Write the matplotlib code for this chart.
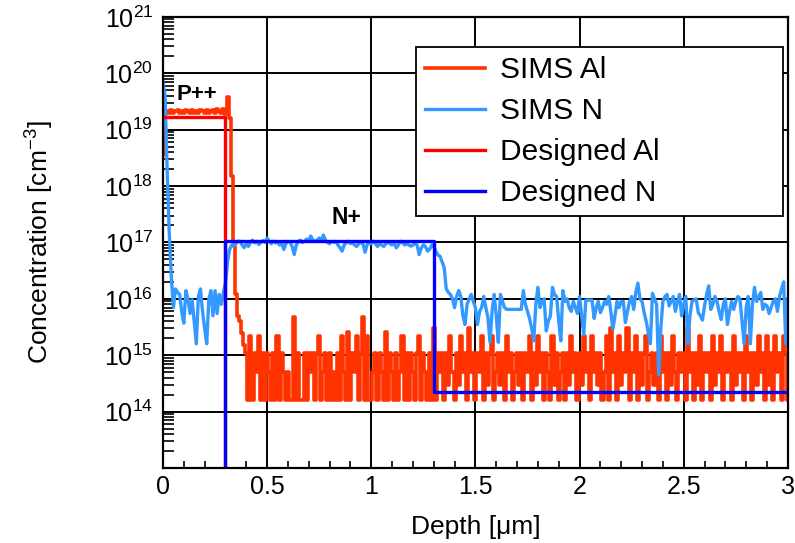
import matplotlib.pyplot as plt
import numpy as np
from matplotlib.ticker import FixedLocator, FixedFormatter, LogLocator, MultipleLocator

plt.rcParams["font.family"] = ["Liberation Sans", "DejaVu Sans"]
plt.rcParams["mathtext.fontset"] = "custom"
plt.rcParams["mathtext.rm"] = "Liberation Sans"
plt.rcParams["mathtext.it"] = "Liberation Sans:italic"
plt.rcParams["mathtext.bf"] = "Liberation Sans:bold"

# SIMS profiles, sampled every 0.01 um from 0 to 3 um
sims_al = [
    3.5e18, 2.0e19, 2.1e19, 2.0e19, 2.2e19, 2.0e19, 2.1e19, 2.2e19, 2.0e19, 2.1e19,  # 0.00
    2.0e19, 2.2e19, 2.1e19, 2.0e19, 2.2e19, 2.0e19, 2.1e19, 2.0e19, 2.2e19, 2.1e19,  # 0.10
    2.0e19, 2.2e19, 2.0e19, 2.1e19, 2.2e19, 2.0e19, 2.3e19, 2.1e19, 2.0e19, 2.3e19,  # 0.20
    1.9e19, 3.8e19, 1.6e19, 1.5e18, 1.0e17, 1.2e16, 5e15, 4e15, 2.5e15, 1.5e15,  # 0.30
    1.1e15, 1.6e14, 2.2e15, 1.6e14, 1.1e15, 5e14, 2.2e15, 1.6e14, 1.1e15, 1.6e14,  # 0.40
    1.1e15, 5e14, 1.6e14, 1.1e15, 1.6e14, 2.2e15, 1.6e14, 1.1e15, 5e14, 1.6e14,  # 0.50
    5e14, 1.6e14, 1.6e14, 4.8e15, 1.6e14, 1.1e15, 1.6e14, 1.6e14, 1.1e15, 1.6e14,  # 0.60
    1.1e15, 5e14, 1.1e15, 1.6e14, 1.1e15, 2.2e15, 1.6e14, 5e14, 1.1e15, 1.6e14,  # 0.70
    1.1e15, 1.6e14, 5e14, 1.6e14, 1.1e15, 1.6e14, 2.2e15, 5e14, 1.6e14, 2.6e15,  # 0.80
    1.6e14, 1.1e15, 5e14, 2.2e15, 1.6e14, 1.1e15, 4.8e15, 1.6e14, 2.2e15, 1.6e14,  # 0.90
    1.6e14, 5e14, 1.1e15, 1.6e14, 1.1e15, 5e14, 1.6e14, 2.6e15, 1.6e14, 1.1e15,  # 1.00
    5e14, 1.6e14, 1.1e15, 1.6e14, 5e14, 2.2e15, 1.6e14, 1.1e15, 1.6e14, 1.1e15,  # 1.10
    5e14, 1.6e14, 1.1e15, 2.2e15, 1.6e14, 1.1e15, 5e14, 1.6e14, 1.1e15, 1.6e14,  # 1.20
    3e15, 1.6e14, 1.1e15, 5e14, 1.1e15, 1.6e14, 1.1e15, 3e14, 2.2e15, 5e14,  # 1.30
    1.6e14, 1.1e15, 3e14, 2.2e15, 5e14, 1.1e15, 1.6e14, 3e15, 5e14, 1.1e15,  # 1.40
    1.6e14, 1.1e15, 5e14, 2.2e15, 1.6e14, 1.1e15, 3e14, 1.1e15, 2.2e15, 1.6e14,  # 1.50
    5e14, 1.1e15, 3e14, 1.1e15, 1.6e14, 2.2e15, 5e14, 1.1e15, 1.6e14, 5e14,  # 1.60
    1.1e15, 3e14, 1.1e15, 1.6e14, 1.1e15, 5e14, 2.2e15, 1.6e14, 1.1e15, 3e14,  # 1.70
    2.2e15, 5e14, 1.1e15, 1.6e14, 1.1e15, 5e14, 1.6e14, 2.2e15, 3e14, 1.1e15,  # 1.80
    1.6e14, 5e14, 1.1e15, 1.6e14, 1.1e15, 3e14, 2.2e15, 5e14, 1.1e15, 1.6e14,  # 1.90
    1.1e15, 3e14, 2.2e15, 5e14, 1.1e15, 1.6e14, 2.2e15, 5e14, 1.1e15, 3e14,  # 2.00
    1.1e15, 1.6e14, 5e14, 2.2e15, 1.6e14, 3e15, 5e14, 1.1e15, 1.6e14, 2.2e15,  # 2.10
    3e14, 1.1e15, 5e14, 3e15, 1.6e14, 1.1e15, 5e14, 2.2e15, 1.6e14, 1.1e15,  # 2.20
    3e14, 1.1e15, 2.2e15, 1.6e14, 5e14, 1.1e15, 3e14, 1.1e15, 1.6e14, 2.2e15,  # 2.30
    5e14, 1.1e15, 1.6e14, 1.1e15, 3e14, 2.2e15, 5e14, 1.6e14, 1.1e15, 5e14,  # 2.40
    1.1e15, 1.6e14, 3e15, 5e14, 1.1e15, 1.6e14, 1.1e15, 3e14, 2.2e15, 1.6e14,  # 2.50
    1.1e15, 5e14, 1.1e15, 1.6e14, 2.2e15, 3e14, 1.1e15, 5e14, 2.2e15, 1.6e14,  # 2.60
    1.1e15, 5e14, 1.1e15, 1.6e14, 2.2e15, 3e14, 1.1e15, 5e14, 1.1e15, 1.6e14,  # 2.70
    2.2e15, 5e14, 1.1e15, 1.6e14, 1.1e15, 3e14, 2.2e15, 5e14, 1.1e15, 1.6e14,  # 2.80
    2.2e15, 3e14, 1.1e15, 1.6e14, 2.2e15, 5e14, 1.1e15, 1.6e14, 2.2e15, 1.1e15,  # 2.90
    1.6e14,  # 3.00
]

sims_n = [
    7e19, 4e19, 2e18, 1.5e17, 2.5e16, 7e15, 1.5e16, 1.3e16, 1.2e16, 6e15,  # 0.00
    3.7e15, 1.4e16, 1e16, 5.5e15, 9.6e15, 4e15, 1.6e15, 1.1e16, 1.5e16, 6e15,  # 0.10
    3e15, 1.6e15, 9.6e15, 1.4e16, 5e15, 1.4e16, 5.5e15, 1.2e16, 8e15, 1.3e16,  # 0.20
    1.9e16, 4.5e16, 7.5e16, 9e16, 8.6e16, 9.5e16, 1.05e17, 1.05e17, 9e16, 8.1e16,  # 0.30
    9.5e16, 8.5e16, 1.0e17, 1.1e17, 9.8e16, 1.05e17, 9.2e16, 1.0e17, 1.08e17, 1.0e17,  # 0.40
    1.2e17, 1.05e17, 9.5e16, 1.05e17, 9.8e16, 1.0e17, 9e16, 1.0e17, 7.5e16, 9.5e16,  # 0.50
    1.05e17, 1.0e17, 8.5e16, 6.1e16, 9e16, 1.05e17, 1.1e17, 1.0e17, 1.05e17, 1.15e17,  # 0.60
    1.1e17, 1.3e17, 1.1e17, 1.05e17, 1.1e17, 1.2e17, 1.05e17, 1.35e17, 1.1e17, 1.0e17,  # 0.70
    9.5e16, 1.05e17, 1.0e17, 1.05e17, 9e16, 8e16, 7e16, 9e16, 1.0e17, 1.05e17,  # 0.80
    9.5e16, 1.0e17, 9e16, 8.5e16, 9.5e16, 1.0e17, 9.5e16, 6.7e16, 9e16, 1.0e17,  # 0.90
    9.5e16, 1.05e17, 9.5e16, 8.5e16, 9.5e16, 9e16, 8.5e16, 9.5e16, 1.0e17, 9.5e16,  # 1.00
    9e16, 1.0e17, 8e16, 9e16, 1.05e17, 1.0e17, 9e16, 9.5e16, 9e16, 8.6e16,  # 1.10
    9e16, 9.5e16, 9e16, 6.1e16, 8e16, 9e16, 8.5e16, 7e16, 7.5e16, 9e16,  # 1.20
    8.5e16, 7e16, 6e16, 5.7e16, 4.5e16, 3.6e16, 1.5e16, 1.3e16, 1.2e16, 1.0e16,  # 1.30
    7e15, 1.1e16, 1.4e16, 1.1e16, 5e15, 3.5e15, 8e15, 1.0e16, 1.2e16, 9e15,  # 1.40
    7e15, 3.5e15, 6e15, 7e15, 1.1e16, 7e15, 4.7e15, 1.7e15, 6e15, 1.2e16,  # 1.50
    5e15, 1.7e15, 1.2e16, 9e15, 7e15, 6.5e15, 6.5e15, 6.5e15, 6.5e15, 6.5e15,  # 1.60
    6.5e15, 6.5e15, 6.5e15, 1.4e16, 8e15, 6e15, 4.5e15, 3e15, 1.8e15, 8e15,  # 1.70
    1.6e16, 7e15, 9e15, 1.0e16, 2.7e15, 4e15, 5e15, 1.6e16, 1.2e16, 1.1e16,  # 1.80
    4e15, 1.8e15, 1.4e16, 9e15, 1.0e16, 7e15, 6e15, 9e15, 7e15, 5.5e15,  # 1.90
    1.1e16, 5e15, 2.3e15, 9.5e15, 9.5e15, 9.5e15, 9.5e15, 4.5e15, 7e15, 9e15,  # 2.00
    5.7e15, 7e15, 9e15, 8e15, 1.1e16, 6e15, 2.9e15, 5e15, 9e15, 7e15,  # 2.10
    9e15, 9e15, 3.8e15, 6e15, 9e15, 1.1e16, 6.5e15, 1.3e16, 1.9e16, 1.0e16,  # 2.20
    9e15, 5.7e15, 4e15, 2.5e15, 1.6e15, 1.25e16, 1.0e16, 8e15, 4.5e14, 3e15,  # 2.30
    9e15, 1.1e16, 1.2e16, 7.5e15, 9e15, 1.1e16, 6e15, 9e15, 1.2e16, 5e15,  # 2.40
    8e15, 1.1e16, 1.6e15, 5e15, 9e15, 9.5e15, 1.0e16, 5.7e15, 5e15, 4.2e15,  # 2.50
    7.5e15, 1.2e16, 1.7e16, 6.5e15, 8e15, 1.1e16, 9e15, 6e15, 4.3e15, 8e15,  # 2.60
    1.0e16, 3.5e15, 6e15, 9e15, 6.5e15, 9e15, 1.1e16, 1.0e16, 4e15, 1.6e15,  # 2.70
    7e15, 1.1e16, 1.6e15, 8e15, 1.6e16, 9e15, 1.1e16, 1.3e16, 6.5e15, 8e15,  # 2.80
    7.5e15, 5.5e15, 7e15, 9e15, 1.0e16, 6e15, 1.1e16, 1.5e16, 2e16, 1.6e15,  # 2.90
    1.0e16,  # 3.00
]

# designed (box) profiles; 1e10 stands for "none" (below the axis)
designed_al_depth = [0.0, 0.3, 0.3, 3.0]
designed_al_conc = [1.7e19, 1.7e19, 1e10, 1e10]
designed_n_depth = [0.0, 0.3, 0.3, 1.3, 1.3, 3.0]
designed_n_conc = [1e10, 1e10, 1.05e17, 1.05e17, 2.2e14, 2.2e14]

x_ticks = [0, 0.5, 1, 1.5, 2, 2.5, 3]
x_tick_labels = ["0", "0.5", "1", "1.5", "2", "2.5", "3"]
y_exponents = [14, 15, 16, 17, 18, 19, 20, 21]

sims_depth = np.linspace(0, 3, len(sims_al))

fig = plt.figure(figsize=(7.95, 5.43), dpi=100)
ax = fig.add_axes([0.205, 0.138, 0.786, 0.831])

ax.plot(sims_depth, sims_al, color="#ff3300", lw=2.6, drawstyle="steps-mid", label="SIMS Al")
ax.plot(sims_depth, sims_n, color="#3399ff", lw=2.4, label="SIMS N")
ax.plot(designed_al_depth, designed_al_conc, color="#ff0000", lw=2.4, label="Designed Al")
ax.plot(designed_n_depth, designed_n_conc, color="#0000ff", lw=2.4, label="Designed N")

ax.set_yscale("log")
ax.set_xlim(0, 3)
ax.set_ylim(1e13, 1e21)

ax.xaxis.set_major_locator(FixedLocator(x_ticks))
ax.xaxis.set_major_formatter(FixedFormatter(x_tick_labels))
ax.xaxis.set_minor_locator(MultipleLocator(0.1))
ax.yaxis.set_major_locator(FixedLocator([10.0 ** e for e in y_exponents]))
ax.yaxis.set_major_formatter(
    FixedFormatter([r"$\mathregular{10^{%d}}$" % e for e in y_exponents]))
ax.yaxis.set_minor_locator(LogLocator(base=10, subs=np.arange(2, 10), numticks=20))

ax.tick_params(which="major", length=0, labelsize=18, colors="black")
ax.tick_params(axis="x", which="major", pad=5)
ax.tick_params(axis="y", which="major", pad=7)
ax.tick_params(axis="x", which="minor", direction="in", length=5, width=1.2)
ax.tick_params(axis="y", which="minor", direction="in", length=8, width=1.2)

ax.grid(True, which="major", color="black", lw=1.4)
ax.set_axisbelow(True)
for s in ax.spines.values():
    s.set_linewidth(1.6)

ax.set_xlabel("Depth [μm]", fontsize=19)
ax.xaxis.set_label_coords(0.5, -0.104)
ax.xaxis.label.set_va("top")
ax.set_ylabel("Concentration [cm$^{-3}$]", fontsize=19)
ax.yaxis.set_label_coords(-0.171, 0.5)

ax.text(0.067, 4.2e19, "P++", fontsize=16, fontweight="bold", va="center")
ax.text(0.88, 2.8e17, "N+", fontsize=16.5, fontweight="bold", ha="center", va="center")

leg = ax.legend(loc="upper left", bbox_to_anchor=(0.405, 0.5, 0.587, 0.433),
                mode="expand", fontsize=21.5, fancybox=False, edgecolor="black",
                framealpha=1, borderpad=0.3, labelspacing=0.44, handlelength=2.0,
                handletextpad=0.5, borderaxespad=0)
leg.get_frame().set_linewidth(1.3)

plt.savefig("out.png", dpi=100)
